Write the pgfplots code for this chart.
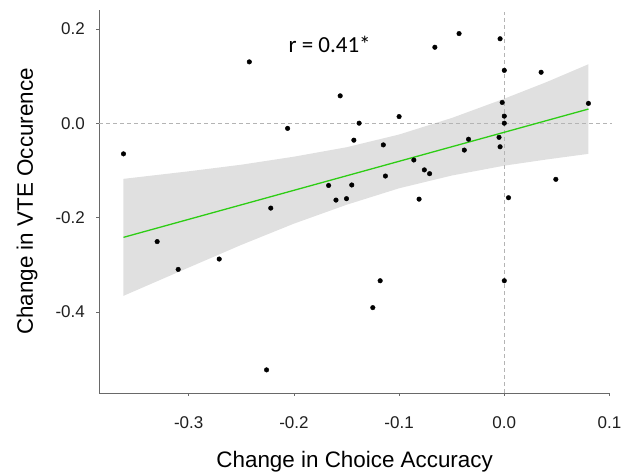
\documentclass[border=0pt]{standalone}
\usepackage{fontspec}
\setmainfont{Liberation Sans}
\newfontfamily\calibri{Carlito}
\usepackage{pgfplots}
\pgfplotsset{compat=1.18}
\definecolor{bandgray}{RGB}{224,224,224}
\definecolor{fitgreen}{RGB}{45,205,20}
\definecolor{axgray}{RGB}{105,105,105}
\definecolor{dashgray}{RGB}{180,180,180}

\pgfplotstableread{
x y
-0.2424 0.130
-0.156 0.058
-0.206 -0.011
-0.138 0.000
-0.143 -0.036
-0.362 -0.065
-0.167 -0.132
-0.145 -0.131
-0.160 -0.163
-0.150 -0.160
-0.330 -0.251
-0.310 -0.310
-0.271 -0.288
-0.222 -0.180
-0.226 -0.523
-0.066 0.161
-0.043 0.190
-0.004 0.179
0.000 0.112
0.035 0.108
-0.100 0.014
-0.002 0.044
0.000 0.015
0.000 0.000
0.080 0.042
-0.115 -0.046
-0.034 -0.034
-0.038 -0.057
-0.005 -0.030
-0.004 -0.050
-0.086 -0.078
-0.076 -0.099
-0.071 -0.107
-0.113 -0.112
0.049 -0.119
-0.081 -0.161
0.004 -0.158
-0.118 -0.334
-0.125 -0.391
0.000 -0.334
}\pts

\begin{document}
\begin{tikzpicture}[x=1pt,y=1pt]
\begin{axis}[
  at={(0,0)}, anchor=south west,
  scale only axis, width=510.7pt, height=383pt,
  xmin=-0.385, xmax=0.1005, ymin=-0.572, ymax=0.240,
  clip=false,
  axis lines=left, axis line style={-, axgray, line width=0.8pt},
  xtick={-0.3,-0.2,-0.1,0,0.1}, xticklabels={-0.3,-0.2,-0.1,0.0,0.1},
  ytick={-0.4,-0.2,0,0.2}, yticklabels={-0.4,-0.2,0.0,0.2},
  tick align=outside, major tick length=3pt,
  tick style={axgray, line width=0.6pt},
  ticklabel style={font=\fontsize{17}{20}\selectfont, text=black!88, inner sep=0pt},
  xticklabel style={anchor=north, yshift=-20pt},
  yticklabel style={anchor=east, xshift=-11.3pt},
  xlabel={Change in Choice Accuracy},
  ylabel={Change in VTE Occurence},
  label style={font=\fontsize{22.4}{26}\selectfont, inner sep=0pt},
  xlabel style={at={(axis description cs:0.5,0)}, anchor=center, yshift=-69pt},
  ylabel style={at={(axis description cs:0,0.5)}, anchor=center, yshift=72.3pt},
]
% confidence band
\addplot[fill=bandgray, draw=none] coordinates {
(-0.362,-0.118) (-0.30,-0.102) (-0.25,-0.088) (-0.20,-0.071) (-0.15,-0.051)
(-0.10,-0.024) (-0.05,0.011) (0.00,0.052) (0.04,0.087) (0.080,0.125)
(0.080,-0.065) (0.04,-0.077) (0.00,-0.090) (-0.05,-0.111) (-0.10,-0.138)
(-0.15,-0.173) (-0.20,-0.213) (-0.25,-0.258) (-0.30,-0.306) (-0.362,-0.366)
} -- cycle;
% reference lines
\addplot[dashgray, line width=0.7pt, dash pattern=on 4pt off 3pt] coordinates {(-0.385,0) (0.102,0)};
\addplot[dashgray, line width=0.7pt, dash pattern=on 4pt off 3pt] coordinates {(0,-0.572) (0,0.236)};
% fit line
\addplot[fitgreen, line width=1.3pt] coordinates {(-0.362,-0.242) (0.080,0.030)};
% points
\addplot[only marks, mark=*, mark size=2.3pt, black] table[x=x,y=y]{\pts};
\node[anchor=base west, inner sep=0pt, font=\calibri\fontsize{23}{27}\selectfont] at (axis cs:-0.2053,0.1505) {r = 0.41*};
\end{axis}
\pgfresetboundingbox
\useasboundingbox (-99.3,-80) rectangle (531.7,393);
\end{tikzpicture}
\end{document}
